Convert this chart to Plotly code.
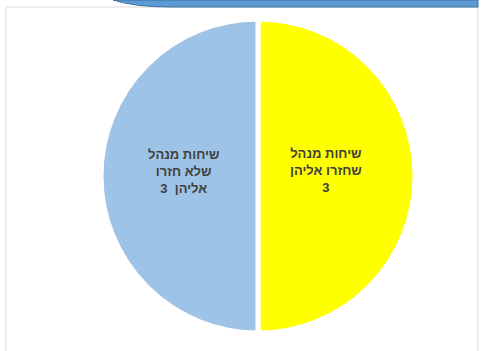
import plotly.graph_objects as go

labels = ["שיחות מנהל שחזרו אליהן", "שיחות מנהל שלא חזרו אליהן"]
values = [3, 3]
slice_text = ["שיחות מנהל<br>שחזרו אליהן<br>3", "שיחות מנהל<br>שלא חזרו<br>אליהן  3"]
colors = ["#FFFF00", "#9DC3E6"]

W, H = 481, 351
label_pos = [(326, 170), (183, 171)]  # pixel centres of the data labels

fig = go.Figure(go.Pie(
    labels=labels,
    values=values,
    text=slice_text,
    textinfo="none",
    direction="clockwise",
    rotation=0,
    sort=False,
    marker=dict(colors=colors, line=dict(color="white", width=5)),
    hoverinfo="label+value",
    showlegend=False,
    domain=dict(x=[101 / W, 415 / W], y=[1 - 333 / H, 1 - 19 / H]),
))

for txt, (px, py) in zip(slice_text, label_pos):
    fig.add_annotation(
        x=px / W, y=1 - py / H, xref="paper", yref="paper",
        text=txt, showarrow=False, align="center",
        xanchor="center", yanchor="middle",
        font=dict(family="Liberation Sans, Arial, sans-serif", size=13, color="#404040", weight="bold"),
    )

fig.update_layout(
    width=W, height=H,
    margin=dict(l=0, r=0, t=0, b=0),
    paper_bgcolor="white",
    plot_bgcolor="white",
    shapes=[
        dict(type="rect", xref="paper", yref="paper",
             x0=6 / W, x1=478 / W, y0=-0.05, y1=1 - 7 / H,
             line=dict(color="#D9D9D9", width=1), fillcolor="rgba(0,0,0,0)", layer="below"),
        dict(type="path", xref="paper", yref="paper",
             path=f"M {113/W},1 Q {135/W},{1-7/H} {170/W},{1-7/H} L {478/W},{1-7/H} L {478/W},1 Z",
             fillcolor="#5B9BD5", line=dict(color="#41719C", width=1)),
    ],
)

fig.write_html("out.html", config={"displayModeBar": False},
               post_script="document.body.style.margin='0';document.body.style.overflow='hidden';")
